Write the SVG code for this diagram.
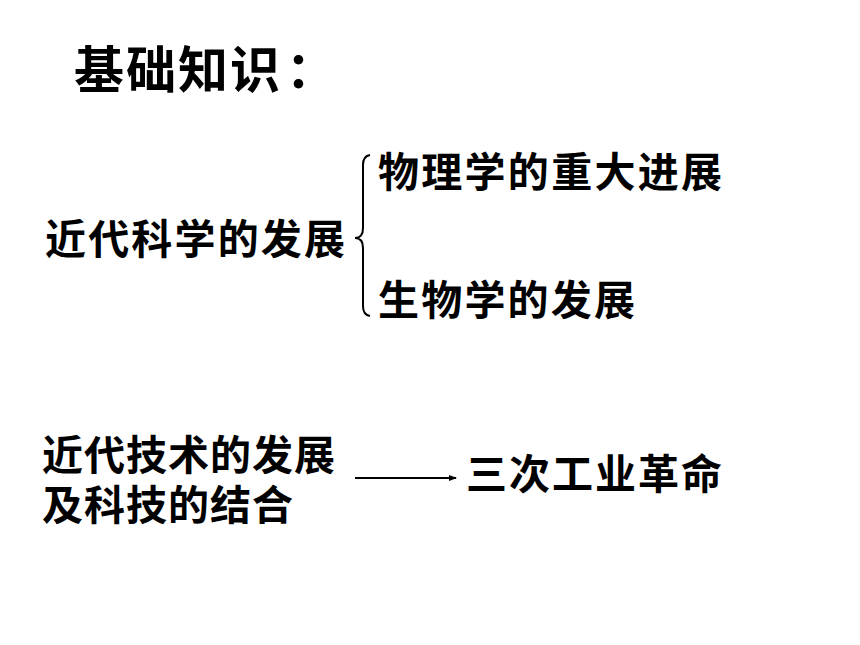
<svg xmlns="http://www.w3.org/2000/svg" width="860" height="645" viewBox="0 0 860 645">
<style>
text{font-family:"Noto Sans CJK SC","Liberation Sans",sans-serif;font-weight:bold;fill:#000}
.t{font-size:41px}
.h{font-size:50px}
.c{fill:none;stroke:#000;stroke-width:2}
</style>
<defs>
<marker id="ah" markerWidth="8" markerHeight="6" refX="7" refY="3" orient="auto" markerUnits="userSpaceOnUse">
<path d="M0,0 L8,3 L0,6 Z" fill="#000"/>
</marker>
</defs>
<rect width="860" height="645" fill="#fff"/>
<g id="title"><text class="h" x="74" y="88"><tspan textLength="206" lengthAdjust="spacing">基础知识</tspan><tspan x="286">：</tspan></text></g>
<g id="node-science"><text class="t" x="45" y="254" textLength="300" lengthAdjust="spacing">近代科学的发展</text></g>
<g id="node-physics"><text class="t" x="378" y="187" textLength="344" lengthAdjust="spacing">物理学的重大进展</text></g>
<g id="node-biology"><text class="t" x="378" y="315" textLength="257" lengthAdjust="spacing">生物学的发展</text></g>
<g id="node-tech"><text class="t"><tspan x="42" y="470" textLength="293" lengthAdjust="spacing">近代技术的发展</tspan><tspan x="42" y="520" textLength="251" lengthAdjust="spacing">及科技的结合</tspan></text></g>
<g id="node-revolution"><text class="t" x="466" y="489" textLength="256" lengthAdjust="spacing">三次工业革命</text></g>
<g id="connectors">
<path class="c" d="M370,155 Q363,156 363,165 L363,228 Q363,238 355,238 Q363,238 363,248 L363,306 Q363,315 370,316"/>
<line class="c" x1="355" y1="478" x2="456" y2="478" marker-end="url(#ah)"/>
</g>
</svg>
